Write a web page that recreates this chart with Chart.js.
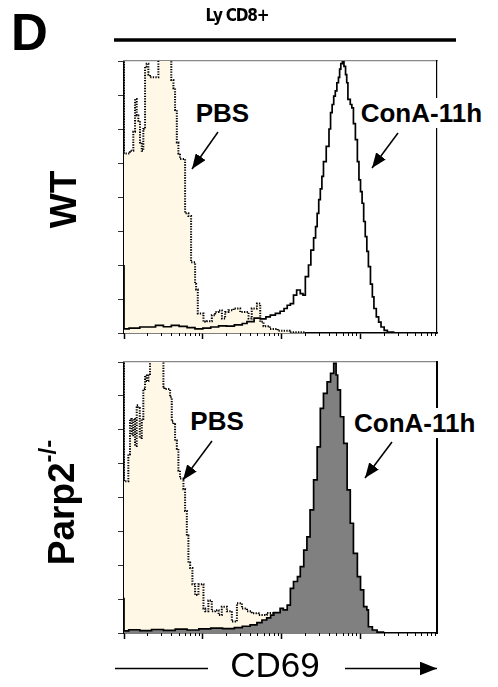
<!DOCTYPE html>
<html>
<head>
<meta charset="utf-8">
<script src="https://cdn.jsdelivr.net/npm/chart.js@4.4.1/dist/chart.umd.min.js"></script>
<style>
  body { margin: 0; background: #fff; width: 498px; height: 687px; overflow: hidden; position: relative;
         font-family: "Liberation Sans", Arial, sans-serif; }
  canvas { position: absolute; left: 0; }
  #wt { top: 0; }
  #parp { top: 350px; }
  .t { position: absolute; white-space: nowrap; color: #000; }
  .lbl { font-weight: bold; font-size: 26px; line-height: 30px; background: #fff; padding: 0 1px; }
</style>
</head>
<body>
<canvas id="wt" width="440" height="345"></canvas>
<canvas id="parp" width="440" height="295"></canvas>

<svg width="498" height="687" style="position:absolute;left:0;top:0">
  <defs>
    <marker id="ah" viewBox="0 0 10 8" refX="10" refY="4" markerWidth="15" markerHeight="12" markerUnits="userSpaceOnUse" orient="auto">
      <path d="M0,0 L10,4 L0,8 z" fill="#000"/>
    </marker>
    <marker id="ah2" viewBox="0 0 10 8" refX="10" refY="4" markerWidth="17" markerHeight="14" markerUnits="userSpaceOnUse" orient="auto">
      <path d="M0,0 L10,4 L0,8 z" fill="#000"/>
    </marker>
  </defs>
  <line x1="114" y1="40" x2="456" y2="40" stroke="#000" stroke-width="3.5"/>
  <line x1="218" y1="132" x2="192" y2="169" stroke="#000" stroke-width="1.5" marker-end="url(#ah)"/>
  <line x1="398" y1="133" x2="372" y2="168" stroke="#000" stroke-width="1.5" marker-end="url(#ah)"/>
  <line x1="212" y1="441" x2="183" y2="480" stroke="#000" stroke-width="1.5" marker-end="url(#ah)"/>
  <line x1="392" y1="442" x2="365" y2="478" stroke="#000" stroke-width="1.5" marker-end="url(#ah)"/>
  <line x1="115" y1="668.5" x2="208" y2="668.5" stroke="#000" stroke-width="1.5"/>
  <line x1="345" y1="668.5" x2="437" y2="668.5" stroke="#000" stroke-width="1.5" marker-end="url(#ah2)"/>
</svg>

<div class="t" style="left:11px;top:6.6px;font-size:51px;line-height:51px;font-weight:bold">D</div>
<div class="t" style="left:137px;top:6px;width:200px;text-align:center;font-family:'Liberation Sans Narrow','DejaVu Sans Condensed','Liberation Sans',sans-serif;font-size:17px;line-height:18px;font-weight:bold;letter-spacing:-1.2px">Ly CD8+</div>
<div class="t" style="left:13px;top:180.5px;width:100px;text-align:center;font-size:37px;line-height:37px;font-weight:bold;transform:rotate(-90deg)">WT</div>
<div class="t" style="left:-17px;top:481.5px;width:160px;text-align:center;font-size:37px;line-height:37px;font-weight:bold;transform:rotate(-90deg)">Parp2<span style="font-size:24px;position:relative;top:-18px">-/-</span></div>
<div class="t lbl" style="left:194.7px;top:97.7px">PBS</div>
<div class="t lbl" style="left:359.7px;top:97.7px">ConA-11h</div>
<div class="t lbl" style="left:189.3px;top:406px">PBS</div>
<div class="t lbl" style="left:353px;top:407.7px">ConA-11h</div>
<div class="t" style="left:175px;top:647px;width:200px;text-align:center;font-size:35px;line-height:35px">CD69</div>

<script>
// CD69 intensity as log10 decades, counts as % of the highest peak

// WT, PBS
const wtPbsLog = [0, 0.075, 0.118, 0.14, 0.161, 0.182, 0.203, 0.225, 0.245, 0.267, 0.288, 0.309, 0.33, 0.372, 0.436,
  0.47, 0.52, 0.6, 0.627, 0.648, 0.67, 0.69, 0.71, 0.775, 0.817, 0.851, 0.868, 0.902, 0.915, 0.936, 0.953, 1.008,
  1.05, 1.114, 1.156, 1.199, 1.242, 1.283, 1.325, 1.389, 1.474, 1.58, 1.62, 1.686, 1.728, 1.77, 1.85, 1.95, 2.1,
  2.3, 2.6, 3.97];
const wtPbsCount = [140, 66, 67, 74, 86, 80, 78, 70, 67, 75, 98, 99, 95, 94, 94,
  104, 106, 103, 93, 90, 82, 70, 66, 64, 44, 43, 26, 26, 18, 16, 7.2, 7.2,
  4.1, 4.3, 6.5, 7.7, 8.3, 5.3, 7.7, 8.4, 9, 7.7, 5.3, 9, 10.8, 4.1, 2.5, 1.5, 0.8,
  0.3, 0, 0];

// WT, ConA-11h
const wtConaLog = [0, 0.065, 0.2, 0.4, 0.5, 0.6, 0.7, 0.8, 0.9, 1.0, 1.1, 1.2, 1.3, 1.4, 1.5, 1.56, 1.65, 1.73,
  1.8, 1.855, 1.92, 1.98, 2.03, 2.07, 2.11, 2.15, 2.19, 2.236, 2.27, 2.3, 2.34, 2.37, 2.405, 2.43, 2.45, 2.47,
  2.49, 2.51, 2.53, 2.565, 2.6, 2.62, 2.64, 2.66, 2.68, 2.7, 2.72, 2.735, 2.75, 2.77, 2.79, 2.81, 2.825, 2.84,
  2.87, 2.89, 2.91, 2.935, 2.96, 2.98, 3.0, 3.02, 3.04, 3.06, 3.08, 3.1, 3.126, 3.15, 3.17, 3.2, 3.23, 3.26,
  3.3, 3.34, 3.42, 3.5, 3.97];
const wtConaCount = [25, 1.5, 1.8, 2.2, 2.8, 2.3, 2.8, 2.4, 2.0, 1.5, 1.8, 2.2, 2.6, 2.5, 3.0, 3.5, 4.2, 5.5,
  5.2, 5.9, 6.6, 7.2, 8.0, 9, 10.2, 10.8, 13.9, 15.8, 14.5, 13.9, 20.7, 25, 30.5, 35, 39.1, 44,
  49, 53, 57.6, 63, 68.6, 75, 81, 84, 87.1, 89, 92, 94, 97, 99, 100, 98, 95, 92,
  85.9, 84, 82.8, 77, 71.1, 63, 56.3, 52, 47.7, 41, 35.4, 30, 24.4, 18, 13.3, 9, 5.9, 4,
  2.2, 1, 0.3, 0, 0];

// Parp2-/-, PBS
const parpPbsLog = [0, 0.055, 0.076, 0.098, 0.118, 0.14, 0.161, 0.18, 0.2, 0.225, 0.245, 0.267, 0.288, 0.309,
  0.33, 0.352, 0.45, 0.5, 0.512, 0.585, 0.606, 0.627, 0.648, 0.67, 0.69, 0.71, 0.754, 0.775, 0.797, 0.817,
  0.839, 0.868, 0.902, 0.944, 0.966, 1.008, 1.03, 1.07, 1.114, 1.156, 1.2, 1.24, 1.305, 1.368, 1.432, 1.496,
  1.56, 1.62, 1.707, 1.77, 1.81, 1.9, 1.95, 2.05, 2.2, 2.4, 2.6, 3.97];
const parpPbsCount = [140, 56, 66, 79, 73, 79, 69, 84, 83, 72, 79, 90, 95, 93,
  95, 103, 108, 103, 91, 90, 87, 78, 77, 71, 68, 60, 57, 53, 45, 36,
  26, 24, 18, 14, 18, 18, 9, 8, 12, 8, 8.4, 6.6, 9.7, 8, 4.2, 11,
  9, 8, 7.3, 6.6, 6.6, 7.4, 5, 3, 1.5, 0.5, 0, 0];

// Parp2-/-, ConA-11h
const parpConaLog = [0, 0.06, 0.2, 0.35, 0.5, 0.65, 0.8, 0.95, 1.1, 1.25, 1.4, 1.5, 1.6, 1.686, 1.75, 1.81,
  1.86, 1.9, 1.98, 2.02, 2.07, 2.11, 2.15, 2.2, 2.236, 2.28, 2.32, 2.36, 2.405, 2.45, 2.49, 2.53, 2.576,
  2.62, 2.66, 2.69, 2.71, 2.745, 2.787, 2.83, 2.87, 2.91, 2.96, 3.0, 3.04, 3.08, 3.1, 3.15, 3.21, 3.29,
  3.35, 3.97];
const parpConaCount = [13, 0.8, 1.2, 0.9, 1.3, 1.0, 1.4, 1.1, 1.5, 1.8, 1.6, 2.0, 2.5, 3.0, 3.8, 4.8,
  5.6, 6.6, 7.5, 9.1, 8.5, 10.3, 16.5, 19, 20.8, 24.5, 30.6, 35.5, 45.4, 56.5, 68.7, 82.9, 88.4,
  92.7, 95.8, 99.5, 95.2, 89.7, 79.8, 70, 52.8, 40.5, 29.4, 20.8, 15.9, 9.7, 8.5, 2.3, 1.1, 0.3,
  0, 0];

// axis ticks (no labels on the original)
const decadeTicks = [1, 10, 100, 1000];
const minorSteps = [2, 3, 4, 5, 6, 7, 8, 9];
const countTicks = [0, 12.5, 25, 37.5, 50, 62.5, 75, 87.5, 100];
const logMax = 3.97;

function pts(xs, ys) {
  return xs.map((x, i) => ({ x: x, y: ys[i] }));
}

function panel(id, pbsLog, pbsCount, conaLog, conaCount, conaFill, padTop, rightWidth) {
  new Chart(document.getElementById(id), {
    type: 'line',
    data: {
      datasets: [{
        label: 'PBS',
        data: pts(pbsLog, pbsCount),
        stepped: 'after',
        fill: 'origin',
        backgroundColor: '#fff8e6',
        borderColor: '#000',
        borderWidth: 2,
        borderDash: [1.3, 1.3],
        pointRadius: 0,
        order: 2
      }, {
        label: 'ConA-11h',
        data: pts(conaLog, conaCount),
        stepped: 'after',
        fill: conaFill ? 'origin' : false,
        backgroundColor: conaFill || 'transparent',
        borderColor: '#000',
        borderWidth: 1.7,
        pointRadius: 0,
        order: 1
      }]
    },
    options: {
      responsive: false,
      animation: false,
      events: [],
      layout: { padding: { top: padTop, right: 3, left: 0, bottom: 0 } },
      plugins: { legend: { display: false }, tooltip: { enabled: false } },
      scales: {
        x: {
          type: 'linear', position: 'bottom', weight: 0, min: 0, max: logMax,
          afterBuildTicks: s => { s.ticks = decadeTicks.map(v => ({ value: Math.log10(v) })); },
          afterFit: s => { s.height = 0; },
          ticks: { display: false },
          grid: { drawOnChartArea: false, tickLength: 6, tickWidth: 1.5, tickColor: '#000' },
          border: { color: '#000', width: 1.5 }
        },
        xMinor: {
          type: 'linear', position: 'bottom', weight: 1, min: 0, max: logMax,
          afterBuildTicks: s => {
            const t = [];
            decadeTicks.forEach(d => minorSteps.forEach(m => {
              if (Math.log10(d * m) < logMax) t.push({ value: Math.log10(d * m) });
            }));
            s.ticks = t;
          },
          afterFit: s => { s.height = 12; },
          ticks: { display: false },
          grid: { drawOnChartArea: false, tickLength: 3, tickWidth: 1, tickColor: '#000' },
          border: { display: false }
        },
        y: {
          min: 0, max: 100,
          afterBuildTicks: s => { s.ticks = countTicks.map(v => ({ value: v })); },
          afterFit: s => { s.width = 124; },
          ticks: { display: false },
          grid: { drawOnChartArea: false, tickLength: 6, tickWidth: 1, tickColor: '#333' },
          border: { color: '#000', width: 1.5 }
        },
        xTop: {
          type: 'linear', position: 'top', min: 0, max: 1,
          afterFit: s => { s.height = 0; },
          ticks: { display: false },
          grid: { display: false },
          border: { color: '#888', width: 1.2 }
        },
        yRight: {
          type: 'linear', position: 'right', min: 0, max: 1,
          afterFit: s => { s.width = 0; },
          ticks: { display: false },
          grid: { display: false },
          border: { color: '#000', width: rightWidth }
        }
      }
    }
  });
}

panel('wt', wtPbsLog, wtPbsCount, wtConaLog, wtConaCount, null, 61, 1.2);
panel('parp', parpPbsLog, parpPbsCount, parpConaLog, parpConaCount, '#808080', 12, 2);
</script>
</body>
</html>
